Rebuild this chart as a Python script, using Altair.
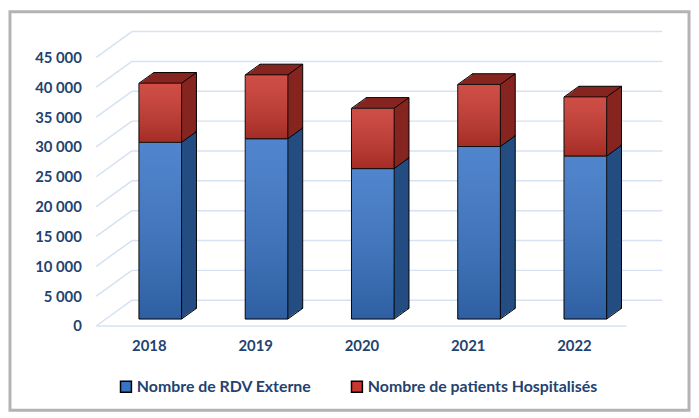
import altair as alt
import pandas as pd

# ---- data ----
annees = ["2018", "2019", "2020", "2021", "2022"]
rdv_externe = [29600, 30200, 25200, 28900, 27300]
patients_hospitalises = [9900, 10700, 10100, 10400, 9900]
y_ticks = [0, 5000, 10000, 15000, 20000, 25000, 30000, 35000, 40000, 45000]
series = ["Nombre de RDV Externe", "Nombre de patients Hospitalisés"]

df = pd.DataFrame({"annee": annees, "rdv": rdv_externe, "hosp": patients_hospitalises})
df["total"] = df["rdv"] + df["hosp"]
df["zero"] = 0
df["s_rdv"] = series[0]
df["s_hosp"] = series[1]
ticks = pd.DataFrame({"v": y_ticks})

# ---- styling ----
W, H = 536, 271
PAD = {"left": 100, "top": 41, "right": 53, "bottom": 95}
TXT = "#23426F"
FONT = "Lato"
BAR_W = 43
DEPTH_X, DEPTH_Y = 15, 10.8
FRONT_DY, BACK_DY = 7, -19          # 3D floor: front edge / back wall shift
BLUE, RED = "#3874C6", "#C8362D"
BLUE_SIDE, RED_SIDE = "#244D82", "#862520"
GRID = "#D6E2F1"

xscale = alt.Scale(paddingInner=0, paddingOuter=0)
yscale = alt.Scale(domain=[0, 45000], nice=False, zero=True)
xaxis = alt.Axis(title=None, domain=False, ticks=False, labelAngle=0, labelOffset=-11,
                 labelPadding=20, labelFont=FONT, labelFontSize=15, labelFontWeight="bold",
                 labelColor=TXT, grid=False)
yaxis = alt.Axis(title=None, domain=False, ticks=False, grid=False, values=y_ticks,
                 labelExpr="replace(format(datum.value, ','), ',', ' ')", labelOffset=7,
                 labelPadding=26, labelFont=FONT, labelFontSize=15, labelFontWeight="bold",
                 labelColor=TXT)


def X(f="annee"):
    return alt.X(f + ":N", scale=xscale, axis=xaxis, sort=annees)


def Y(f):
    return alt.Y(f + ":Q", scale=yscale, axis=yaxis)


base = alt.Chart(df)
tb = alt.Chart(ticks)

# outer frame (decoration)
frame = alt.Chart(ticks.head(1)).mark_rect(fill=None, stroke="#B3B3B3", strokeWidth=3).encode(
    x=alt.value(-98), x2=alt.value(W + PAD["right"] - 2),
    y=alt.value(-39), y2=alt.value(H + PAD["bottom"] - 3))

# 3D gridlines: slanted from label to back wall, then horizontal along back wall
slant = tb.mark_rule(color=GRID, strokeWidth=1.5, yOffset=FRONT_DY, y2Offset=BACK_DY).encode(
    y=Y("v"), y2="v:Q", x=alt.value(-11), x2=alt.value(25))
back = tb.mark_rule(color=GRID, strokeWidth=1.5, yOffset=BACK_DY, y2Offset=BACK_DY).encode(
    y=Y("v"), y2="v:Q", x=alt.value(25), x2=alt.value(W + 24))
floor_front = tb.transform_filter("datum.v == 0").mark_rule(
    color=GRID, strokeWidth=1.5, yOffset=FRONT_DY, y2Offset=FRONT_DY).encode(
    y=Y("v"), y2="v:Q", x=alt.value(-11), x2=alt.value(W - 12))

layers = [frame, slant, back, floor_front]

# extrusion (side and top faces), farthest first
N = 12
for k in range(N, 0, -1):
    dx = DEPTH_X * k / N
    dy = DEPTH_Y * k / N
    extra = {"stroke": "black", "strokeWidth": 1} if k == N else {}
    layers.append(base.mark_bar(width=BAR_W, color=BLUE_SIDE, xOffset=dx, yOffset=-dy,
                                y2Offset=-dy, **extra).encode(x=X(), y=Y("rdv"), y2="zero:Q"))
    layers.append(base.mark_bar(width=BAR_W, color=RED_SIDE, xOffset=dx, yOffset=-dy,
                                y2Offset=-dy, **extra).encode(x=X(), y=Y("total"), y2="rdv:Q"))

# diagonal edges
half = BAR_W / 2


def edge(field, xo):
    return base.mark_rule(color="black", strokeWidth=1, xOffset=xo, x2Offset=xo + DEPTH_X,
                          y2Offset=-DEPTH_Y).encode(x=X(), x2="annee:N", y=Y(field),
                                                    y2=field + ":Q")


layers += [edge("total", -half), edge("total", half), edge("rdv", half), edge("zero", half)]

fill_scale = alt.Scale(domain=series, range=[BLUE, RED])
legend = alt.Legend(orient="none", legendX=11, legendY=331, direction="horizontal", title=None,
                    symbolType="square", symbolSize=121, symbolStrokeColor="black",
                    symbolStrokeWidth=1.5, symbolOpacity=1, labelFont=FONT, labelFontSize=16,
                    labelFontWeight="bold", labelColor=TXT, columnPadding=36, labelLimit=400,
                    labelOffset=3)

front_blue = base.mark_bar(width=BAR_W, stroke="black", strokeWidth=1).encode(
    x=X(), y=Y("rdv"), y2="zero:Q",
    fill=alt.Fill("s_rdv:N", scale=fill_scale, legend=legend))
front_red = base.mark_bar(width=BAR_W, stroke="black", strokeWidth=1).encode(
    x=X(), y=Y("total"), y2="rdv:Q",
    fill=alt.Fill("s_hosp:N", scale=fill_scale, legend=legend))

grad = alt.Gradient(gradient="linear", x1=0, y1=0, x2=0, y2=1,
                    stops=[alt.GradientStop(color="rgba(255,255,255,0.12)", offset=0),
                           alt.GradientStop(color="rgba(0,0,0,0.18)", offset=1)])
shade_blue = base.mark_bar(width=BAR_W, color=grad).encode(x=X(), y=Y("rdv"), y2="zero:Q")
shade_red = base.mark_bar(width=BAR_W, color=grad).encode(x=X(), y=Y("total"), y2="rdv:Q")

layers += [front_blue, front_red, shade_blue, shade_red]

chart = alt.layer(*layers).properties(
    width=W, height=H, autosize=alt.AutoSizeParams(type="none"), padding=PAD,
    background="white",
).configure_view(stroke=None)

chart.save("out.html", embed_options={"renderer": "svg", "actions": False})
